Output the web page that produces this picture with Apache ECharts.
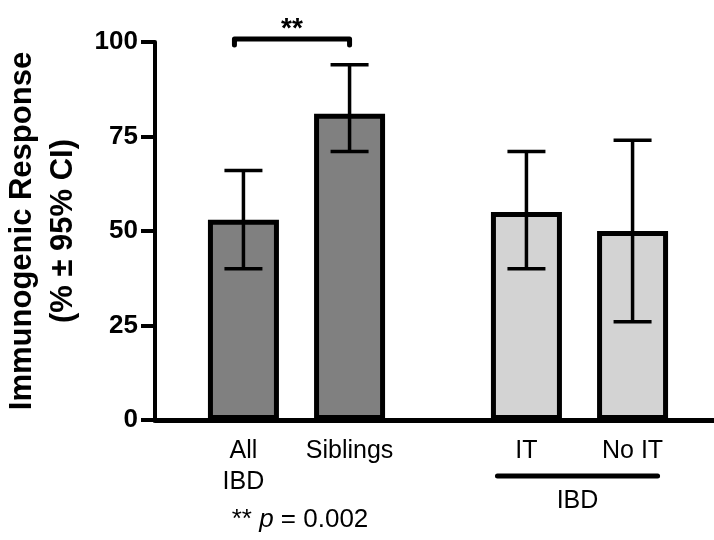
<!DOCTYPE html>
<html>
<head>
<meta charset="utf-8">
<script src="https://cdn.jsdelivr.net/npm/echarts@6/dist/echarts.min.js"></script>
<style>
  html, body { margin: 0; padding: 0; background: #fff; }
  #main { width: 714px; height: 540px; }
</style>
</head>
<body>
<div id="main"></div>
<script>
// data
const groups = ['All\nIBD', 'Siblings', 'IT', 'No IT'];
const response = [53, 81, 55, 50];
const ciLow = [40, 71, 40, 26];
const ciHigh = [66, 94, 71, 74];
const yTicks = [0, 25, 50, 75, 100];
const sigLabel = '**';
const pNote = 'p = 0.002';
const subGroupLabel = 'IBD';

// layout: slot index of each bar on a 16-slot category axis (blank slots make the gaps)
const nSlots = 16;
const slots = [2, 5, 10, 13];
const fills = ['#808080', '#808080', '#d3d3d3', '#d3d3d3'];
const FONT = '"Liberation Sans", Arial, Helvetica, sans-serif';

const cats = [];
for (let i = 0; i < nSlots; i++) cats.push('_' + i);
slots.forEach((s, i) => { cats[s] = groups[i]; });

const barData = cats.map(() => '-');
slots.forEach((s, i) => {
  barData[s] = { value: response[i], itemStyle: { color: fills[i] } };
});
const errData = slots.map((s, i) => [s, ciLow[i], ciHigh[i]]);

const chart = echarts.init(document.getElementById('main'));

chart.setOption({
  backgroundColor: '#fff',
  animation: false,
  grid: { left: 155, right: -7, top: 42, bottom: 120, outerBoundsMode: 'none' },
  xAxis: {
    type: 'category',
    data: cats,
    axisLine: { lineStyle: { color: '#000', width: 5 } },
    axisTick: { show: false },
    axisLabel: {
      interval: 0,
      color: '#000',
      fontFamily: FONT,
      fontSize: 25,
      lineHeight: 31,
      margin: 16,
      formatter: v => (v[0] === '_' ? '' : v)
    }
  },
  yAxis: {
    type: 'value',
    min: yTicks[0],
    max: yTicks[yTicks.length - 1],
    interval: 25,
    name: 'Immunogenic Response\n(% ± 95% CI)',
    nameLocation: 'middle',
    nameRotate: 90,
    nameGap: 58,
    nameTextStyle: {
      color: '#000',
      fontFamily: FONT,
      fontWeight: 'bold',
      fontSize: 31,
      lineHeight: 41,
      align: 'center'
    },
    axisLine: { show: true, lineStyle: { color: '#000', width: 4 } },
    axisTick: { show: true, length: 14, lineStyle: { color: '#000', width: 4 } },
    axisLabel: {
      color: '#000',
      fontFamily: FONT,
      fontWeight: 'bold',
      fontSize: 26,
      margin: 17
    },
    splitLine: { show: false }
  },
  series: [
    {
      type: 'bar',
      data: barData,
      barWidth: 71,
      itemStyle: { borderColor: '#000', borderWidth: 5 },
      z: 2
    },
    {
      // 95% CI whiskers
      type: 'custom',
      data: errData,
      encode: { x: 0, y: [1, 2] },
      z: 3,
      renderItem: function (params, api) {
        const lo = api.coord([api.value(0), api.value(1)]);
        const hi = api.coord([api.value(0), api.value(2)]);
        const half = 19;
        const st = { stroke: '#000', lineWidth: 3.5 };
        return {
          type: 'group',
          children: [
            { type: 'line', shape: { x1: lo[0], y1: lo[1], x2: hi[0], y2: hi[1] }, style: st },
            { type: 'line', shape: { x1: lo[0] - half, y1: lo[1], x2: lo[0] + half, y2: lo[1] }, style: st },
            { type: 'line', shape: { x1: hi[0] - half, y1: hi[1], x2: hi[0] + half, y2: hi[1] }, style: st }
          ]
        };
      }
    }
  ]
});

// annotations placed through the axes
const px = (slot, v) => chart.convertToPixel({ gridIndex: 0 }, [slot, v]);
const a = px(slots[0], 100);
const b = px(slots[1], 100);
const c = px(slots[2], 0);
const d = px(slots[3], 0);
const bx1 = a[0] - 9, bx2 = b[0], by = a[1] - 3;
const gy = c[1] + 56;

chart.setOption({
  graphic: [
    {
      type: 'polyline',
      shape: { points: [[bx1, by + 6], [bx1, by], [bx2, by], [bx2, by + 6]] },
      style: { stroke: '#000', lineWidth: 5, fill: null, lineCap: 'round', lineJoin: 'round' },
      z: 10
    },
    {
      type: 'text',
      x: (bx1 + bx2) / 2,
      y: by - 10,
      style: {
        text: sigLabel, fill: '#000', font: 'bold 28px ' + FONT,
        textAlign: 'center', textVerticalAlign: 'middle'
      },
      z: 10
    },
    {
      type: 'line',
      shape: { x1: c[0] - 29, y1: gy, x2: d[0] + 25, y2: gy },
      style: { stroke: '#000', lineWidth: 5, lineCap: 'round' },
      z: 10
    },
    {
      type: 'text',
      x: (c[0] - 29 + d[0] + 25) / 2,
      y: gy + 25,
      style: {
        text: subGroupLabel, fill: '#000', font: '25px ' + FONT,
        textAlign: 'center', textVerticalAlign: 'middle'
      },
      z: 10
    },
    {
      type: 'text',
      x: 300,
      y: 520,
      style: {
        rich: {
          s: { fontFamily: FONT, fontSize: 26, fill: '#000' },
          i: { fontFamily: FONT, fontSize: 26, fontStyle: 'italic', fill: '#000' }
        },
        text: '{s|' + sigLabel + ' }{i|' + pNote.split(' ')[0] + '}{s| ' + pNote.split(' ').slice(1).join(' ') + '}',
        textAlign: 'center', textVerticalAlign: 'middle'
      },
      z: 10
    }
  ]
});
</script>
</body>
</html>
